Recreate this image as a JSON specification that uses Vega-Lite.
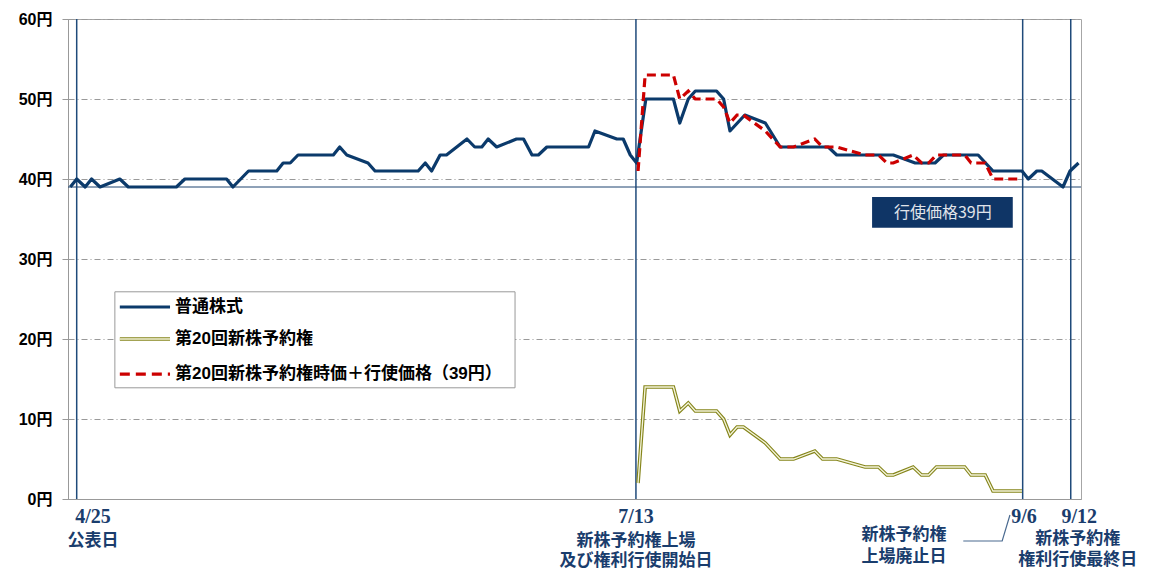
{
  "$schema": "https://vega.github.io/schema/vega-lite/v6.json",
  "width": 1013,
  "height": 480,
  "autosize": "none",
  "padding": {"left": 68, "top": 19, "right": 71, "bottom": 71},
  "background": "white",
  "config": {
    "view": {"stroke": "#a6a6a6", "strokeWidth": 1},
    "font": "Liberation Sans, Noto Sans CJK JP"
  },
  "datasets": {
    "stock": [
      {"d": -0.8, "v": 39}, {"d": 0.1, "v": 40}, {"d": 1.3, "v": 39}, {"d": 2.2, "v": 40}, {"d": 3.4, "v": 39},
      {"d": 6.2, "v": 40}, {"d": 7.4, "v": 39}, {"d": 14.2, "v": 39}, {"d": 15.4, "v": 40}, {"d": 21.3, "v": 40},
      {"d": 22.2, "v": 39}, {"d": 24.4, "v": 41}, {"d": 28.4, "v": 41}, {"d": 29.3, "v": 42}, {"d": 30.3, "v": 42},
      {"d": 31.4, "v": 43}, {"d": 36.4, "v": 43}, {"d": 37.3, "v": 44}, {"d": 38.3, "v": 43}, {"d": 41.3, "v": 42},
      {"d": 42.3, "v": 41}, {"d": 48.4, "v": 41}, {"d": 49.4, "v": 42}, {"d": 50.3, "v": 41}, {"d": 51.5, "v": 43},
      {"d": 52.4, "v": 43}, {"d": 55.3, "v": 45}, {"d": 56.4, "v": 44}, {"d": 57.4, "v": 44}, {"d": 58.3, "v": 45},
      {"d": 59.5, "v": 44}, {"d": 62.3, "v": 45}, {"d": 63.3, "v": 45}, {"d": 64.5, "v": 43}, {"d": 65.4, "v": 43},
      {"d": 66.6, "v": 44}, {"d": 72.5, "v": 44}, {"d": 73.4, "v": 46}, {"d": 76.5, "v": 45}, {"d": 77.4, "v": 45},
      {"d": 78.4, "v": 43}, {"d": 79.3, "v": 42}, {"d": 80.6, "v": 50}, {"d": 84.5, "v": 50}, {"d": 85.4, "v": 47},
      {"d": 86.6, "v": 50}, {"d": 87.6, "v": 51}, {"d": 90.6, "v": 51}, {"d": 91.6, "v": 50}, {"d": 92.5, "v": 46},
      {"d": 94.6, "v": 48}, {"d": 97.5, "v": 47}, {"d": 99.6, "v": 44}, {"d": 106.4, "v": 44}, {"d": 107.6, "v": 43},
      {"d": 115.6, "v": 43}, {"d": 118.7, "v": 42}, {"d": 121.5, "v": 42}, {"d": 122.7, "v": 43}, {"d": 127.6, "v": 43},
      {"d": 129.7, "v": 41}, {"d": 133.8, "v": 41}, {"d": 134.7, "v": 40}, {"d": 135.9, "v": 41}, {"d": 136.6, "v": 41},
      {"d": 139.6, "v": 39}, {"d": 140.6, "v": 41}, {"d": 141.8, "v": 42}
    ],
    "warrant": [
      {"d": 79.5, "v": 2}, {"d": 80.5, "v": 14}, {"d": 84.5, "v": 14}, {"d": 85.4, "v": 11}, {"d": 86.6, "v": 12},
      {"d": 87.6, "v": 11}, {"d": 90.6, "v": 11}, {"d": 91.6, "v": 10}, {"d": 92.5, "v": 8}, {"d": 93.5, "v": 9},
      {"d": 94.4, "v": 9}, {"d": 97.5, "v": 7}, {"d": 99.6, "v": 5}, {"d": 101.5, "v": 5}, {"d": 104.5, "v": 6},
      {"d": 105.6, "v": 5}, {"d": 107.6, "v": 5}, {"d": 111.6, "v": 4}, {"d": 113.5, "v": 4}, {"d": 114.7, "v": 3},
      {"d": 115.6, "v": 3}, {"d": 118.4, "v": 4}, {"d": 119.6, "v": 3}, {"d": 120.6, "v": 3}, {"d": 121.7, "v": 4},
      {"d": 125.7, "v": 4}, {"d": 126.6, "v": 3}, {"d": 128.6, "v": 3}, {"d": 129.7, "v": 1}, {"d": 133.8, "v": 1}
    ],
    "sum": [
      {"d": 79.5, "v": 41}, {"d": 80.5, "v": 53}, {"d": 84.5, "v": 53}, {"d": 85.4, "v": 50}, {"d": 86.6, "v": 51},
      {"d": 87.6, "v": 50}, {"d": 90.6, "v": 50}, {"d": 91.6, "v": 49}, {"d": 92.5, "v": 47}, {"d": 93.5, "v": 48},
      {"d": 94.4, "v": 48}, {"d": 97.5, "v": 46}, {"d": 99.6, "v": 44}, {"d": 101.5, "v": 44}, {"d": 104.5, "v": 45},
      {"d": 105.6, "v": 44}, {"d": 107.6, "v": 44}, {"d": 111.6, "v": 43}, {"d": 113.5, "v": 43}, {"d": 114.7, "v": 42},
      {"d": 115.6, "v": 42}, {"d": 118.4, "v": 43}, {"d": 119.6, "v": 42}, {"d": 120.6, "v": 42}, {"d": 121.7, "v": 43},
      {"d": 125.7, "v": 43}, {"d": 126.6, "v": 42}, {"d": 128.6, "v": 42}, {"d": 129.7, "v": 40}, {"d": 133.8, "v": 40}
    ],
    "events": [{"d": 0.1}, {"d": 79.2}, {"d": 133.9}, {"d": 140.7}],
    "notes": [
      {"d": 2.4, "v": -2.25, "t": "4/25"},
      {"d": 2.4, "v": -5.25, "t": "公表日"},
      {"d": 79.2, "v": -2.25, "t": "7/13"},
      {"d": 79.2, "v": -5.25, "t": "新株予約権上場"},
      {"d": 79.2, "v": -7.8, "t": "及び権利行使開始日"},
      {"d": 117.1, "v": -4.5, "t": "新株予約権"},
      {"d": 117.1, "v": -7.2, "t": "上場廃止日"},
      {"d": 134.1, "v": -2.25, "t": "9/6"},
      {"d": 141.9, "v": -2.25, "t": "9/12"},
      {"d": 141.7, "v": -5.0, "t": "新株予約権"},
      {"d": 141.7, "v": -7.6, "t": "権利行使最終日"}
    ],
    "conn": [
      {"d": 125.5, "v": -5.25, "o": 1},
      {"d": 131.0, "v": -5.25, "o": 2},
      {"d": 132.1, "v": -2.0, "o": 3}
    ],
    "box": [{"d1": 112.6, "d2": 132.5, "v1": 33.9, "v2": 37.75, "dc": 122.6, "vc": 35.8, "t": "行使価格39円"}],
    "legendbox": [{"d1": 5.5, "d2": 62.1, "v1": 13.9, "v2": 25.9}],
    "legend": [
      {"d1": 6.2, "d2": 13.3, "dt": 14.0, "v": 24.0, "t": "普通株式", "k": "stock"},
      {"d1": 6.2, "d2": 13.3, "dt": 14.0, "v": 20.0, "t": "第20回新株予約権", "k": "warrant"},
      {"d1": 6.2, "d2": 13.3, "dt": 14.0, "v": 15.6, "t": "第20回新株予約権時価＋行使価格（39円）", "k": "sum"}
    ]
  },
  "layer": [
    {
      "data": {"name": "stock"},
      "mark": {"type": "line", "opacity": 0},
      "encoding": {
        "x": {"field": "d", "type": "quantitative", "scale": {"domain": [-1.13, 142.15], "nice": false, "zero": false},
              "axis": {"title": null, "labels": false, "ticks": false, "grid": false, "domainColor": "#999999"}},
        "y": {"field": "v", "type": "quantitative", "scale": {"domain": [0, 60], "nice": false, "zero": true},
              "axis": {"title": null, "values": [0, 10, 20, 30, 40, 50, 60], "labelExpr": "datum.value + '円'",
                       "labelFont": "Liberation Sans, Noto Sans CJK JP", "labelFontWeight": "bold", "labelFontSize": 16,
                       "labelColor": "#000000", "labelPadding": 10, "tickSize": 6, "tickColor": "#999999",
                       "domainColor": "#999999", "grid": true, "gridColor": "#999999", "gridDash": [6, 3, 1, 3], "gridWidth": 1}}
      }
    },
    {
      "data": {"name": "events"},
      "mark": {"type": "rule", "color": "#1f4a7a", "strokeWidth": 1.5},
      "encoding": {"x": {"field": "d", "type": "quantitative"}}
    },
    {
      "data": {"values": [{"v": 39}]},
      "mark": {"type": "rule", "color": "#1f4470", "strokeWidth": 1},
      "encoding": {"y": {"field": "v", "type": "quantitative"}}
    },
    {
      "data": {"name": "stock"},
      "mark": {"type": "line", "color": "#0b3a6b", "strokeWidth": 3.2, "strokeJoin": "round"},
      "encoding": {"x": {"field": "d", "type": "quantitative"}, "y": {"field": "v", "type": "quantitative"}}
    },
    {
      "data": {"name": "warrant"},
      "mark": {"type": "line", "color": "#85851a", "strokeWidth": 3.6, "strokeJoin": "miter"},
      "encoding": {"x": {"field": "d", "type": "quantitative"}, "y": {"field": "v", "type": "quantitative"}}
    },
    {
      "data": {"name": "warrant"},
      "mark": {"type": "line", "color": "#f4f4dc", "strokeWidth": 1.3, "strokeJoin": "miter"},
      "encoding": {"x": {"field": "d", "type": "quantitative"}, "y": {"field": "v", "type": "quantitative"}}
    },
    {
      "data": {"name": "sum"},
      "mark": {"type": "line", "color": "#cc0000", "strokeWidth": 3.2, "strokeDash": [9, 5]},
      "encoding": {"x": {"field": "d", "type": "quantitative"}, "y": {"field": "v", "type": "quantitative"}}
    },
    {
      "data": {"name": "box"},
      "mark": {"type": "rect", "color": "#0f3566"},
      "encoding": {
        "x": {"field": "d1", "type": "quantitative"}, "x2": {"field": "d2"},
        "y": {"field": "v1", "type": "quantitative"}, "y2": {"field": "v2"}
      }
    },
    {
      "data": {"name": "box"},
      "mark": {"type": "text", "color": "#e0e4ea", "fontSize": 16, "font": "Noto Sans CJK JP", "align": "center", "baseline": "middle"},
      "encoding": {
        "x": {"field": "dc", "type": "quantitative"}, "y": {"field": "vc", "type": "quantitative"},
        "text": {"field": "t"}
      }
    },
    {
      "data": {"name": "legendbox"},
      "mark": {"type": "rect", "fill": "white", "stroke": "#999999", "strokeWidth": 1},
      "encoding": {
        "x": {"field": "d1", "type": "quantitative"}, "x2": {"field": "d2"},
        "y": {"field": "v1", "type": "quantitative"}, "y2": {"field": "v2"}
      }
    },
    {
      "data": {"name": "legend"},
      "transform": [{"filter": "datum.k == 'stock'"}],
      "mark": {"type": "rule", "color": "#0b3a6b", "strokeWidth": 3.2},
      "encoding": {"x": {"field": "d1", "type": "quantitative"}, "x2": {"field": "d2"}, "y": {"field": "v", "type": "quantitative"}}
    },
    {
      "data": {"name": "legend"},
      "transform": [{"filter": "datum.k == 'warrant'"}],
      "mark": {"type": "rule", "color": "#85851a", "strokeWidth": 3.6},
      "encoding": {"x": {"field": "d1", "type": "quantitative"}, "x2": {"field": "d2"}, "y": {"field": "v", "type": "quantitative"}}
    },
    {
      "data": {"name": "legend"},
      "transform": [{"filter": "datum.k == 'warrant'"}],
      "mark": {"type": "rule", "color": "#f4f4dc", "strokeWidth": 1.3},
      "encoding": {"x": {"field": "d1", "type": "quantitative"}, "x2": {"field": "d2"}, "y": {"field": "v", "type": "quantitative"}}
    },
    {
      "data": {"name": "legend"},
      "transform": [{"filter": "datum.k == 'sum'"}],
      "mark": {"type": "rule", "color": "#cc0000", "strokeWidth": 3.2, "strokeDash": [10, 6]},
      "encoding": {"x": {"field": "d1", "type": "quantitative"}, "x2": {"field": "d2"}, "y": {"field": "v", "type": "quantitative"}}
    },
    {
      "data": {"name": "legend"},
      "mark": {"type": "text", "color": "#000000", "fontSize": 17, "fontWeight": "bold", "font": "Liberation Sans, Noto Sans CJK JP", "align": "left", "baseline": "middle"},
      "encoding": {"x": {"field": "dt", "type": "quantitative"}, "y": {"field": "v", "type": "quantitative"}, "text": {"field": "t"}}
    },
    {
      "data": {"name": "notes"},
      "transform": [{"filter": "!test(/^[0-9]/, datum.t)"}],
      "mark": {"type": "text", "color": "#1a3d6d", "fontSize": 17, "fontWeight": "bold", "font": "Liberation Serif, Noto Sans CJK JP", "align": "center", "baseline": "middle"},
      "encoding": {"x": {"field": "d", "type": "quantitative"}, "y": {"field": "v", "type": "quantitative"}, "text": {"field": "t"}}
    },
    {
      "data": {"name": "notes"},
      "transform": [{"filter": "test(/^[0-9]/, datum.t)"}],
      "mark": {"type": "text", "color": "#1a3d6d", "fontSize": 20, "fontWeight": "bold", "font": "Liberation Serif", "align": "center", "baseline": "middle"},
      "encoding": {"x": {"field": "d", "type": "quantitative"}, "y": {"field": "v", "type": "quantitative"}, "text": {"field": "t"}}
    },
    {
      "data": {"name": "conn"},
      "mark": {"type": "line", "color": "#4a6a90", "strokeWidth": 1.2},
      "encoding": {"x": {"field": "d", "type": "quantitative"}, "y": {"field": "v", "type": "quantitative"}, "order": {"field": "o"}}
    }
  ]
}
